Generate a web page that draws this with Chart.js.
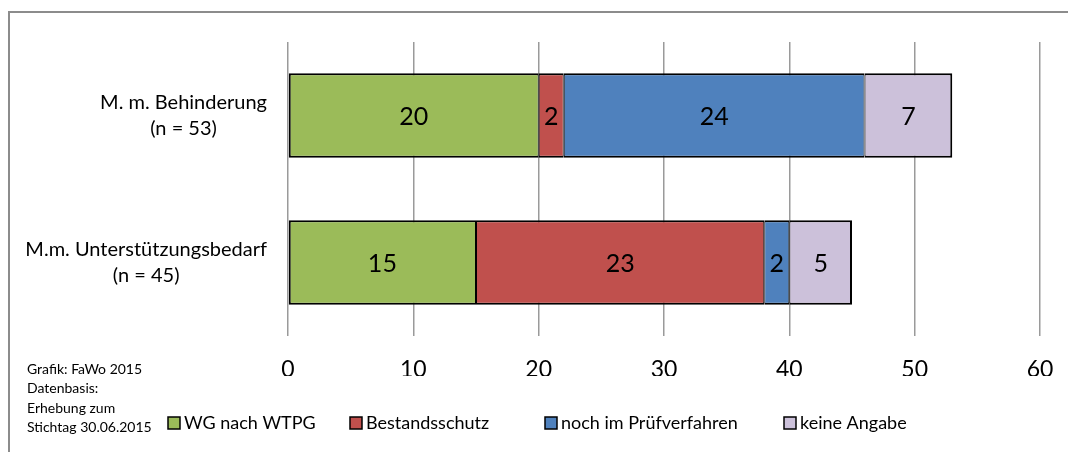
<!DOCTYPE html>
<html lang="de">
  <head>
    <meta charset="UTF-8" />
    <script src="https://cdn.jsdelivr.net/npm/chart.js"></script>
    <title>Wohngemeinschaften</title>
    <style>
      body { margin: 0; background: #fff; }
    </style>
  </head>
  <body>
    <canvas id="canvas_grafico" width="1068" height="452"></canvas>
  </body>
</html>
<script>
  // Daten aus der Grafik
  var kategorien = [
    ["M. m. Behinderung", "(n = 53)"],
    ["M.m. Unterstützungsbedarf", "(n = 45)"],
  ];
  var serien = ["WG nach WTPG", "Bestandsschutz", "noch im Prüfverfahren", "keine Angabe"];
  var wgNachWtpg = [20, 15];
  var bestandsschutz = [2, 23];
  var pruefverfahren = [24, 2];
  var keineAngabe = [7, 5];
  var xTicks = [0, 10, 20, 30, 40, 50, 60];
  var fussnote = ["Grafik: FaWo 2015", "Datenbasis:", "Erhebung zum", "Stichtag 30.06.2015"];

  var farben = ["#9bbb59", "#c0504d", "#4f81bd", "#ccc1da"];
  var schrift = "Lato";

  // Legende: Startpositionen der Kästchen
  var legendeX = [168, 350, 545, 784];

  var werte = [wgNachWtpg, bestandsschutz, pruefverfahren, keineAngabe];
  var datasets = [];
  for (var i = 0; i < serien.length; i++) {
    datasets.push({
      label: serien[i],
      data: werte[i],
      backgroundColor: farben[i],
      borderColor: "#000",
      // innen 1+1 = 2px, aussen 2px
      borderWidth: {
        top: 2,
        bottom: 2,
        left: i == 0 ? 2 : 1,
        right: i == serien.length - 1 ? 2 : 1,
      },
      borderSkipped: false,
      barPercentage: 0.575,
      categoryPercentage: 1,
    });
  }

  var extras = {
    id: "extras",
    beforeDraw: function (chart) {
      var ctx = chart.ctx;
      ctx.save();
      ctx.fillStyle = "#fff";
      ctx.fillRect(0, 0, chart.width, chart.height);
      // Rahmen (nur oben und links sichtbar)
      ctx.strokeStyle = "#8c8c8c";
      ctx.lineWidth = 2;
      ctx.beginPath();
      ctx.moveTo(9, chart.height);
      ctx.lineTo(9, 12);
      ctx.lineTo(chart.width, 12);
      ctx.stroke();
      ctx.restore();
    },
    afterDatasetsDraw: function (chart) {
      var ctx = chart.ctx;
      ctx.save();
      ctx.fillStyle = "#000";
      ctx.font = "25px " + schrift;
      ctx.textAlign = "center";
      ctx.textBaseline = "middle";
      chart.data.datasets.forEach(function (ds, d) {
        var meta = chart.getDatasetMeta(d);
        meta.data.forEach(function (bar, j) {
          ctx.fillText(String(ds.data[j]), (bar.x + bar.base) / 2, bar.y + 1);
        });
      });
      ctx.restore();
    },
    afterDraw: function (chart) {
      var ctx = chart.ctx;
      var y = chart.scales.y;
      ctx.save();
      ctx.fillStyle = "#000";
      ctx.textBaseline = "middle";

      // Kategorien: Block rechtsbündig, Zeilen zueinander zentriert
      ctx.font = "20px " + schrift;
      ctx.textAlign = "center";
      kategorien.forEach(function (zeilen, i) {
        var breite = 0;
        zeilen.forEach(function (z) {
          breite = Math.max(breite, ctx.measureText(z).width);
        });
        var mitteX = 267 - breite / 2;
        var mitteY = y.getPixelForValue(i);
        zeilen.forEach(function (z, k) {
          ctx.fillText(z, mitteX, mitteY + (k - (zeilen.length - 1) / 2) * 26);
        });
      });

      // Fußnote links unten
      ctx.font = "14px " + schrift;
      ctx.textAlign = "left";
      var fy = [369, 388, 408, 427];
      fussnote.forEach(function (z, k) {
        ctx.fillText(z, 27, fy[k]);
      });

      // Legende
      ctx.font = "18px " + schrift;
      chart.data.datasets.forEach(function (ds, d) {
        var bx = legendeX[d];
        ctx.fillStyle = ds.backgroundColor;
        ctx.fillRect(bx, 417, 12, 12);
        ctx.strokeStyle = "#000";
        ctx.lineWidth = 1.5;
        ctx.strokeRect(bx, 417, 12, 12);
        ctx.fillStyle = "#000";
        ctx.fillText(ds.label, bx + 16, 423);
      });
      ctx.restore();
    },
  };

  var config = {
    type: "bar",
    data: {
      labels: kategorien,
      datasets: datasets,
    },
    options: {
      indexAxis: "y",
      responsive: false,
      animation: false,
      layout: {
        padding: { top: 42, right: 28, bottom: 76, left: 0 },
      },
      plugins: {
        legend: { display: false },
        tooltip: { enabled: false },
      },
      scales: {
        x: {
          stacked: true,
          min: 0,
          max: 60,
          afterBuildTicks: function (scale) {
            scale.ticks = xTicks.map(function (v) {
              return { value: v };
            });
          },
          afterFit: function (scale) {
            scale.height = 40;
            scale.paddingLeft = 0;
            scale.paddingRight = 0;
          },
          grid: { color: "#9a9a9a", lineWidth: 1.5, drawTicks: false },
          border: { display: false },
          ticks: {
            color: "#000",
            padding: 20,
            font: { family: schrift, size: 23 },
          },
        },
        y: {
          stacked: true,
          afterFit: function (scale) {
            scale.width = 288;
          },
          grid: { display: false },
          border: { display: false },
          ticks: { display: false },
        },
      },
    },
    plugins: [extras],
  };

  var grafico = new Chart(document.getElementById("canvas_grafico"), config);
</script>
